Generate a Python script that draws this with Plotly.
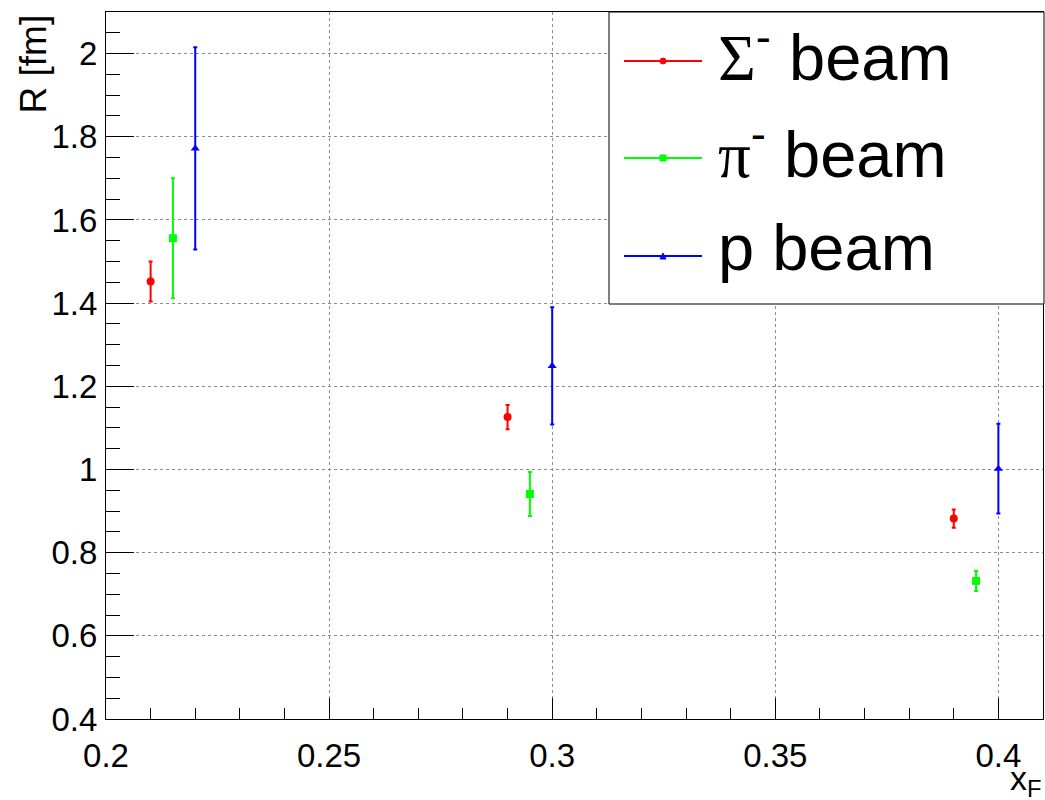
import plotly.graph_objects as go

# Measured radius R [fm] versus Feynman x for three beam species
xf_sigma = [0.21, 0.29, 0.39]
r_sigma = [1.452, 1.126, 0.882]
err_sigma = [0.048, 0.029, 0.022]

xf_pi = [0.215, 0.295, 0.395]
r_pi = [1.556, 0.941, 0.732]
err_pi = [0.144, 0.053, 0.024]

xf_p = [0.22, 0.30, 0.40]
r_p = [1.772, 1.249, 1.002]
err_p = [0.243, 0.141, 0.108]

series_names = ["Σ<sup>-</sup> beam", "π<sup>-</sup> beam", "p beam"]
series_colors = ["#ff0000", "#00ff00", "#0000ff"]
series_symbols = ["circle", "square", "triangle-up"]

W, H = 1045, 800
ML, MR, MT, MB = 106, 2, 12, 81
PW, PH = W - ML - MR, H - MT - MB


def px(x):
    return (x - ML) / PW


def py(y):
    return (H - MB - y) / PH


FONT = "Liberation Sans, Arial, Helvetica, sans-serif"
SERIF = "Liberation Serif, DejaVu Serif, serif"

fig = go.Figure()
data = [(xf_sigma, r_sigma, err_sigma), (xf_pi, r_pi, err_pi), (xf_p, r_p, err_p)]
for (xs, ys, es), name, col, sym in zip(data, series_names, series_colors, series_symbols):
    fig.add_trace(go.Scatter(
        x=xs, y=ys, mode="markers", name=name, showlegend=False,
        marker=dict(color=col, size=8, symbol=sym),
        error_y=dict(type="data", array=es, visible=True, color=col,
                     thickness=2, width=2),
    ))

axis_common = dict(
    showline=True, linecolor="black", linewidth=1, mirror=True,
    ticks="inside", tickcolor="black", tickwidth=1,
    showgrid=True, gridcolor="#8c8c8c", griddash="dot", gridwidth=1,
    zeroline=False,
)

fig.update_xaxes(
    range=[0.2, 0.41], tickvals=[0.2, 0.25, 0.3, 0.35, 0.4],
    ticktext=["0.2", "0.25", "0.3", "0.35", "0.4"], ticklen=21,
    minor=dict(ticks="inside", ticklen=11, dtick=0.01, tick0=0.2,
               tickcolor="black", showgrid=False),
    ticklabelstandoff=7,
    tickfont=dict(family=FONT, size=33, color="black"),
    **axis_common,
)
fig.update_yaxes(
    range=[0.4, 2.1], tickvals=[0.4, 0.6, 0.8, 1.0, 1.2, 1.4, 1.6, 1.8, 2.0],
    ticktext=["0.4", "0.6", "0.8", "1", "1.2", "1.4", "1.6", "1.8", "2"], ticklen=28,
    minor=dict(ticks="inside", ticklen=14, dtick=0.05, tick0=0.4,
               tickcolor="black", showgrid=False),
    ticklabelstandoff=1,
    tickfont=dict(family=FONT, size=33, color="black"),
    **axis_common,
)

annotations = [
    dict(text="R [fm]", textangle=-90, x=px(33), y=py(13), xanchor="center",
         yanchor="top", font=dict(family=FONT, size=37, color="black")),
    dict(text="x<sub>F</sub>", x=px(1044), y=py(757), xanchor="right",
         yanchor="top", font=dict(family=FONT, size=34, color="black")),
]

shapes = [
    dict(type="rect", xref="paper", yref="paper", x0=px(609), x1=px(1044),
         y0=py(304), y1=py(12), line=dict(color="black", width=1),
         fillcolor="white", layer="above"),
]

row_y = [61, 158, 256]
for i, (name, col) in enumerate(zip(series_names, series_colors)):
    yc = py(row_y[i])
    shapes.append(dict(type="line", xref="paper", yref="paper", x0=px(624),
                       x1=px(702), y0=yc, y1=yc, line=dict(color=col, width=2),
                       layer="above"))
    cx, cy = 663, row_y[i]
    if i == 0:
        shapes.append(dict(type="circle", xref="paper", yref="paper",
                           x0=px(cx - 3), x1=px(cx + 3), y0=py(cy + 3), y1=py(cy - 3),
                           fillcolor=col, line=dict(color=col, width=1), layer="above"))
    elif i == 1:
        shapes.append(dict(type="rect", xref="paper", yref="paper",
                           x0=px(cx - 3), x1=px(cx + 3), y0=py(cy + 3), y1=py(cy - 3),
                           fillcolor=col, line=dict(color=col, width=1), layer="above"))
    else:
        path = "M {} {} L {} {} L {} {} Z".format(
            px(cx - 3), py(cy + 3), px(cx + 3), py(cy + 3), px(cx), py(cy - 3))
        shapes.append(dict(type="path", xref="paper", yref="paper", path=path,
                           fillcolor=col, line=dict(color=col, width=1), layer="above"))

legend_text = [
    "<span style=\"font-family:%s\">Σ</span><sup>-</sup> beam" % SERIF,
    "<span style=\"font-family:%s\">π</span><sup>-</sup> beam" % SERIF,
    "p beam",
]
for i, t in enumerate(legend_text):
    annotations.append(dict(text=t, x=px(716), y=py(row_y[i] - 8), xanchor="left",
                            yanchor="middle", showarrow=False,
                            font=dict(family=FONT, size=65, color="black")))

for a in annotations:
    a.setdefault("showarrow", False)
    a["xref"] = "paper"
    a["yref"] = "paper"

fig.update_layout(
    width=W, height=H, margin=dict(l=ML, r=MR, t=MT, b=MB),
    plot_bgcolor="white", paper_bgcolor="white",
    showlegend=False, annotations=annotations, shapes=shapes,
)

fig.write_html("out.html")
